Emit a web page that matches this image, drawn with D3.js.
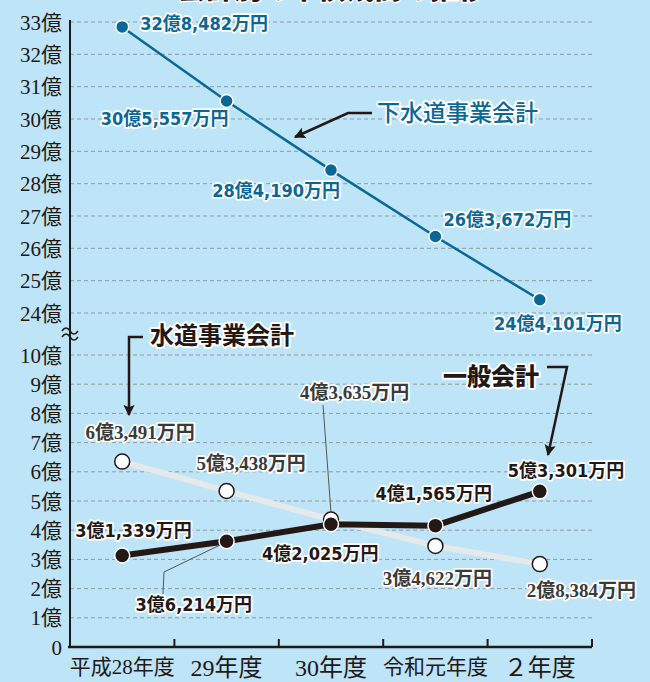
<!DOCTYPE html>
<html>
<head>
<meta charset="utf-8">
<script src="https://cdn.jsdelivr.net/npm/d3@7"></script>
<style>
    body { margin: 0; background: #bde4f7; }
    svg { display: block; }
</style>
</head>
<body>
<svg id="chart" width="650" height="682"></svg>
<script>
// data
const years = ['平成28年度', '29年度', '30年度', '令和元年度', '２年度'];
const sewerage = [32.8482, 30.5557, 28.4190, 26.3672, 24.4101];
const water = [6.3491, 5.3438, 4.3635, 3.4622, 2.8384];
const general = [3.1339, 3.6214, 4.2025, 4.1565, 5.3301];
const topTicks = [24, 25, 26, 27, 28, 29, 30, 31, 32, 33];
const bottomTicks = [1, 2, 3, 4, 5, 6, 7, 8, 9, 10];

const svg = d3.select('#chart');
const sansFont = "'DejaVu Sans Condensed', 'Noto Sans CJK JP', sans-serif";
const serifFont = "'Liberation Serif', 'Noto Sans CJK JP', serif";

const x = d3.scaleBand().domain(years).range([70, 592]);
const yTop = d3.scaleLinear().domain([24, 33]).range([313, 22]);
const yBot = d3.scaleLinear().domain([0, 10]).range([647, 355]);
const cx = (d, i) => x(years[i]) + x.bandwidth() / 2;

function fmt(v) {
    const n = Math.round(v * 10000);
    return Math.floor(n / 10000) + '億' + d3.format(',')(n % 10000) + '万円';
}

// cut-off title at the very top
svg.append('text')
    .attr('x', 332).attr('y', -1)
    .attr('text-anchor', 'middle')
    .style('font-family', "'Noto Sans CJK JP', sans-serif")
    .style('font-weight', 900)
    .style('font-size', '28px')
    .style('fill', '#231815')
    .style('stroke', '#fff').style('stroke-width', 3).style('paint-order', 'stroke')
    .text('会計別の市債残高の推移');

// gridlines
const grid = svg.append('g').attr('class', 'grid');
grid.selectAll('line.top')
    .data(topTicks)
    .enter().append('line')
    .attr('class', 'top')
    .attr('x1', 70).attr('x2', 595)
    .attr('y1', d => yTop(d)).attr('y2', d => yTop(d));
grid.selectAll('line.bot')
    .data(bottomTicks)
    .enter().append('line')
    .attr('class', 'bot')
    .attr('x1', 70).attr('x2', 595)
    .attr('y1', d => yBot(d)).attr('y2', d => yBot(d));
grid.selectAll('line')
    .style('stroke', '#8f9ba3')
    .style('stroke-width', 1)
    .style('stroke-dasharray', '4,3');

// y labels
svg.append('g').selectAll('text')
    .data(topTicks.map(d => ({ t: d + '億', y: yTop(d) }))
        .concat(bottomTicks.map(d => ({ t: d + '億', y: yBot(d) })))
        .concat([{ t: '0', y: yBot(0) }]))
    .enter().append('text')
    .attr('x', 62)
    .attr('y', d => d.y)
    .attr('dy', '0.36em')
    .attr('text-anchor', 'end')
    .style('font-family', serifFont)
    .style('font-size', '21px')
    .style('fill', '#231815')
    .text(d => d.t);

// axes
svg.append('line')
    .attr('x1', 70).attr('x2', 70).attr('y1', 20).attr('y2', 648)
    .style('stroke', '#231815').style('stroke-width', 2);

const xAxis = svg.append('g')
    .attr('transform', 'translate(0,647)')
    .call(d3.axisBottom(x).tickSize(0).tickPadding(12));
xAxis.select('.domain')
    .attr('d', 'M68,0H592')
    .style('stroke', '#231815').style('stroke-width', 2.5);
xAxis.selectAll('text')
    .style('font-family', serifFont)
    .style('font-size', (d) => d === '平成28年度' || d === '令和元年度' ? '21px' : '24px')
    .style('fill', '#231815');
xAxis.selectAll('line.sep')
    .data(years)
    .enter().append('line')
    .attr('class', 'sep')
    .attr('x1', d => x(d) + x.bandwidth()).attr('x2', d => x(d) + x.bandwidth())
    .attr('y1', 0).attr('y2', -8)
    .style('stroke', '#231815').style('stroke-width', 2);

// axis break
const brk = svg.append('g').attr('transform', 'translate(70,332)');
[-3, 3].forEach((o) => {
    brk.append('path')
        .attr('d', `M-8,${o + 2} q4,-6 8,0 t8,0`)
        .style('fill', 'none').style('stroke', '#231815').style('stroke-width', 1.5);
});

// series lines
function drawSeries(values, y, opt) {
    const g = svg.append('g');
    const line = d3.line().x(cx).y((d) => y(d));
    g.append('path')
        .datum(values)
        .attr('d', line)
        .style('fill', 'none')
        .style('stroke', opt.line)
        .style('stroke-width', opt.width);
    g.selectAll('circle')
        .data(values)
        .enter().append('circle')
        .attr('cx', cx)
        .attr('cy', (d) => y(d))
        .attr('r', opt.r)
        .style('fill', opt.fill)
        .style('stroke', opt.stroke)
        .style('stroke-width', opt.sw);
    return g;
}

// leader lines (drawn under the dots)
svg.append('polyline')
    .attr('points', `323,405 ${cx(0, 2)},${yBot(water[2]) - 7}`)
    .style('fill', 'none').style('stroke', '#555').style('stroke-width', 1);
svg.append('polyline')
    .attr('points', `163,594 164,572 ${cx(0, 1) - 5},${yBot(general[1]) + 3}`)
    .style('fill', 'none').style('stroke', '#555').style('stroke-width', 1);

drawSeries(sewerage, yTop, { line: '#0a6896', width: 2.5, r: 6.5, fill: '#0a6896', stroke: '#fff', sw: 1.5 });
drawSeries(water, yBot, { line: '#e6e9ea', width: 6, r: 7.5, fill: '#fff', stroke: '#231815', sw: 1.5 });
drawSeries(general, yBot, { line: '#231815', width: 6, r: 7.5, fill: '#231815', stroke: '#fff', sw: 1.5 });

// value labels: offsets from each point
const sewerageOff = [[18, -3, 'start'], [2, 17, 'end'], [9, 20, 'end'], [8, -17, 'start'], [18, 24, 'middle']];
const waterOff = [[18, -29, 'middle'], [-30, -28, 'start'], [-31, -127, 'start'], [2, 32, 'middle'], [-13, 26, 'start']];
const generalOff = [[-47, -25, 'start'], [-91, 63, 'start'], [-69, 29, 'start'], [-60, -32, 'start'], [-32, -21, 'start']];

function drawLabels(values, y, offs, style) {
    svg.append('g').selectAll('text')
        .data(values)
        .enter().append('text')
        .attr('x', (d, i) => cx(d, i) + offs[i][0])
        .attr('y', (d, i) => y(d) + offs[i][1])
        .attr('dy', '0.36em')
        .attr('text-anchor', (d, i) => offs[i][2])
        .style('font-family', style.font)
        .style('font-weight', 'bold')
        .style('font-size', style.size)
        .style('fill', style.fill)
        .style('stroke', '#fff')
        .style('stroke-width', 3.5)
        .style('stroke-linejoin', 'round')
        .style('paint-order', 'stroke')
        .text(fmt);
}

drawLabels(sewerage, yTop, sewerageOff, { font: sansFont, size: '18px', fill: '#0a6896' });
drawLabels(water, yBot, waterOff, { font: serifFont, size: '19px', fill: '#3a3a3a' });
drawLabels(general, yBot, generalOff, { font: sansFont, size: '18px', fill: '#231815' });

// series names with arrows
const defs = svg.append('defs');
defs.append('marker')
    .attr('id', 'arrow')
    .attr('viewBox', '0 0 10 10')
    .attr('refX', 9).attr('refY', 5)
    .attr('markerWidth', 4.5).attr('markerHeight', 4.5)
    .attr('orient', 'auto')
    .append('path')
    .attr('d', 'M0,0L10,5L0,10L2,5Z')
    .style('fill', '#231815');

function callout(pts, label, lx, ly, style) {
    svg.append('polyline')
        .attr('points', pts)
        .attr('marker-end', 'url(#arrow)')
        .style('fill', 'none')
        .style('stroke', '#231815')
        .style('stroke-width', 2.5);
    svg.append('text')
        .attr('x', lx).attr('y', ly)
        .attr('dy', '0.36em')
        .style('font-family', "'Noto Sans CJK JP', sans-serif")
        .style('font-weight', style.weight)
        .style('font-size', style.size)
        .style('fill', style.fill)
        .style('stroke', '#fff')
        .style('stroke-width', 4)
        .style('stroke-linejoin', 'round')
        .style('paint-order', 'stroke')
        .text(label);
}

callout('372,113 348,113 295,137', '下水道事業会計', 377, 113, { weight: 500, size: '23px', fill: '#0a6896' });
callout('143,337 129,337 129,415', '水道事業会計', 150, 335, { weight: 700, size: '24px', fill: '#231815' });
callout('547,367 567,367 548,455', '一般会計', 443, 376, { weight: 900, size: '24px', fill: '#231815' });
</script>
</body>
</html>
